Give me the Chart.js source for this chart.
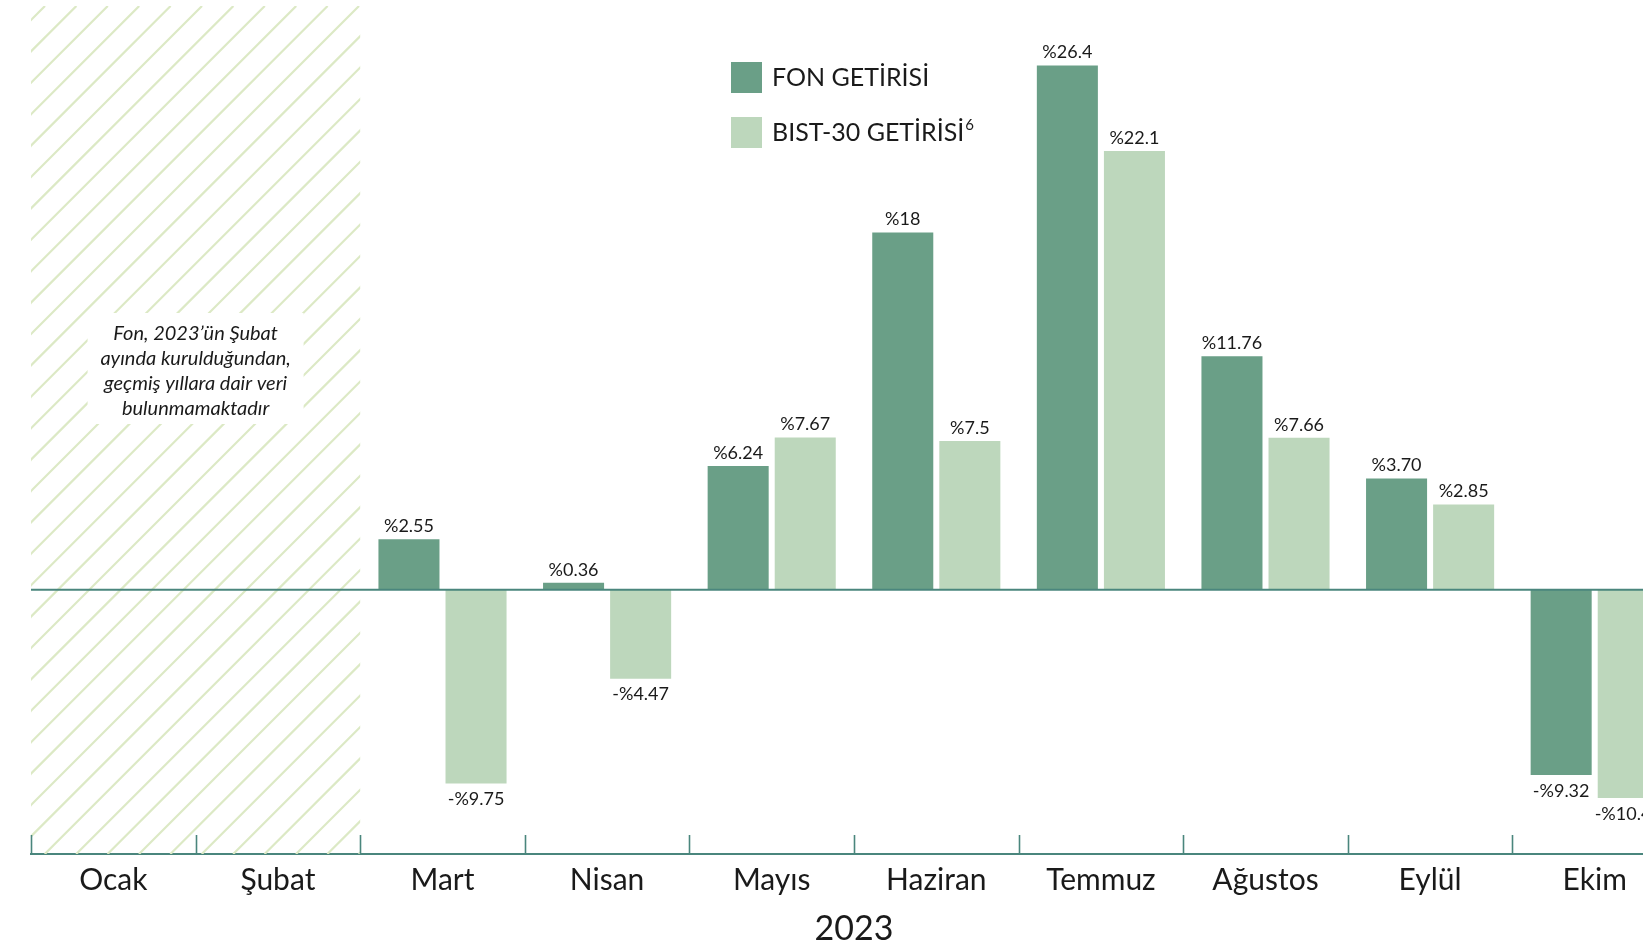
<!DOCTYPE html>
<html lang="tr">
<head>
<meta charset="utf-8">
<title>Fon Getirisi 2023</title>
<script src="https://cdn.jsdelivr.net/npm/chart.js@4.4.1/dist/chart.umd.min.js"></script>
<style>
    html, body { margin: 0; padding: 0; background: #fff; overflow: hidden; }
    #wrap { width: 1680px; height: 949px; }
</style>
</head>
<body>
<div id="wrap"><canvas id="returns-chart" width="1680" height="949"></canvas></div>
<script>
// --- DATA ---
const months = ['Ocak', 'Şubat', 'Mart', 'Nisan', 'Mayıs', 'Haziran', 'Temmuz', 'Ağustos', 'Eylül', 'Ekim'];
// bar heights as drawn in the source picture (Eylül bars are drawn taller than their printed labels)
const fonReturns = [null, null, 2.55, 0.36, 6.24, 18, 26.4, 11.76, 5.61, -9.32];
const bistReturns = [null, null, -9.75, -4.47, 7.67, 7.5, 22.1, 7.66, 4.30, -10.48];
const fonLabels = ['', '', '%2.55', '%0.36', '%6.24', '%18', '%26.4', '%11.76', '%3.70', '-%9.32'];
const bistLabels = ['', '', '-%9.75', '-%4.47', '%7.67', '%7.5', '%22.1', '%7.66', '%2.85', '-%10.48'];
const yearLabel = '2023';
const seriesNames = ['FON GETİRİSİ', 'BIST-30 GETİRİSİ'];
const noteLines = ['Fon, 2023’ün Şubat', 'ayında kurulduğundan,', 'geçmiş yıllara dair veri', 'bulunmamaktadır'];
const noDataCount = 2; // Ocak + Şubat

const FON_COLOR = '#6a9f87';
const BIST_COLOR = '#bdd7bc';
const AXIS_COLOR = '#4a867d';
const HATCH_COLOR = '#dce9c5';
const TEXT_COLOR = '#1a1a1a';
const FONT = 'Lato, "Noto Sans", sans-serif';

// --- PLUGIN: hatch, note, zero line, ticks, labels, legend ---
const decorPlugin = {
    id: 'decor',
    beforeDatasetsDraw(chart) {
        const { ctx, chartArea, scales: { x } } = chart;
        const half = (x.getPixelForValue(1) - x.getPixelForValue(0)) / 2;
        const x0 = x.getPixelForValue(0) - half;
        const x1 = x.getPixelForValue(noDataCount - 1) + half;
        const top = chartArea.top, bottom = chartArea.bottom, H = bottom - top;

        ctx.save();
        ctx.beginPath();
        ctx.rect(x0, top, x1 - x0, H);
        ctx.clip();
        ctx.strokeStyle = HATCH_COLOR;
        ctx.lineWidth = 2.2;
        for (let s = 45 - x0 - H; s < (x1 - x0) + 40; s += 31.4) {
            ctx.beginPath();
            ctx.moveTo(x0 + s, bottom);
            ctx.lineTo(x0 + s + H, top);
            ctx.stroke();
        }
        ctx.restore();

        // note box
        const cx = (x0 + x1) / 2;
        ctx.save();
        ctx.fillStyle = '#fff';
        ctx.fillRect(cx - 108, 313, 216, 111);
        ctx.fillStyle = TEXT_COLOR;
        ctx.font = 'italic 20px ' + FONT;
        ctx.textAlign = 'center';
        ctx.textBaseline = 'middle';
        noteLines.forEach((line, i) => ctx.fillText(line, cx, 334 + i * 25));
        ctx.restore();
    },
    afterDatasetsDraw(chart) {
        const { ctx, chartArea, scales: { x, y } } = chart;
        const zeroY = y.getPixelForValue(0);

        // zero line
        ctx.save();
        ctx.strokeStyle = AXIS_COLOR;
        ctx.lineWidth = 2;
        ctx.beginPath();
        ctx.moveTo(chartArea.left, zeroY);
        ctx.lineTo(chartArea.right, zeroY);
        ctx.stroke();

        // category ticks (upwards from the axis)
        const half = (x.getPixelForValue(1) - x.getPixelForValue(0)) / 2;
        ctx.lineWidth = 1.6;
        for (let i = 0; i <= months.length; i++) {
            const px = Math.round(x.getPixelForValue(0) - half + i * half * 2) + 0.5;
            ctx.beginPath();
            ctx.moveTo(px, chartArea.bottom);
            ctx.lineTo(px, chartArea.bottom - 19);
            ctx.stroke();
        }
        ctx.restore();

        // value labels
        ctx.save();
        ctx.font = '18px ' + FONT;
        ctx.fillStyle = TEXT_COLOR;
        ctx.textAlign = 'center';
        const labelSets = [fonLabels, bistLabels];
        chart.data.datasets.forEach((ds, di) => {
            const meta = chart.getDatasetMeta(di);
            meta.data.forEach((bar, i) => {
                const v = ds.data[i];
                if (v === null || v === undefined) return;
                const txt = labelSets[di][i];
                if (v >= 0) {
                    ctx.textBaseline = 'bottom';
                    ctx.fillText(txt, bar.x, bar.y - 4);
                } else {
                    ctx.textBaseline = 'top';
                    ctx.fillText(txt, bar.x, bar.y + 7);
                }
            });
        });
        ctx.restore();

        // legend
        ctx.save();
        const lx = 731, ly = [62, 117];
        [FON_COLOR, BIST_COLOR].forEach((c, i) => {
            ctx.fillStyle = c;
            ctx.fillRect(lx, ly[i], 31, 31);
            ctx.fillStyle = TEXT_COLOR;
            ctx.font = '25px ' + FONT;
            ctx.textAlign = 'left';
            ctx.textBaseline = 'middle';
            ctx.fillText(seriesNames[i], lx + 41, ly[i] + 16);
            if (i === 1) {
                const w = ctx.measureText(seriesNames[i]).width;
                ctx.font = '15px ' + FONT;
                ctx.fillText('6', lx + 42 + w, ly[i] + 8);
            }
        });
        ctx.restore();
    }
};

new Chart(document.getElementById('returns-chart'), {
    type: 'bar',
    data: {
        labels: months,
        datasets: [
            { label: seriesNames[0], data: fonReturns, backgroundColor: FON_COLOR },
            { label: seriesNames[1], data: bistReturns, backgroundColor: BIST_COLOR }
        ]
    },
    options: {
        responsive: false,
        animation: false,
        devicePixelRatio: 1,
        categoryPercentage: 0.815,
        barPercentage: 0.91,
        layout: { padding: { left: 31, right: 3, top: 6, bottom: 0 } },
        plugins: { legend: { display: false }, tooltip: { enabled: false } },
        scales: {
            y: { display: false, min: -13.3, max: 29.4 },
            x: {
                afterFit: (scale) => { scale.height = 95; },
                grid: { display: false, drawTicks: false },
                border: { display: true, color: AXIS_COLOR, width: 2 },
                ticks: { color: TEXT_COLOR, font: { family: FONT, size: 30 }, padding: 8, maxRotation: 0 },
                title: { display: true, text: yearLabel, color: TEXT_COLOR, font: { family: FONT, size: 34 }, padding: { top: 0, bottom: 0 } }
            }
        }
    },
    plugins: [decorPlugin]
});
</script>
</body>
</html>
